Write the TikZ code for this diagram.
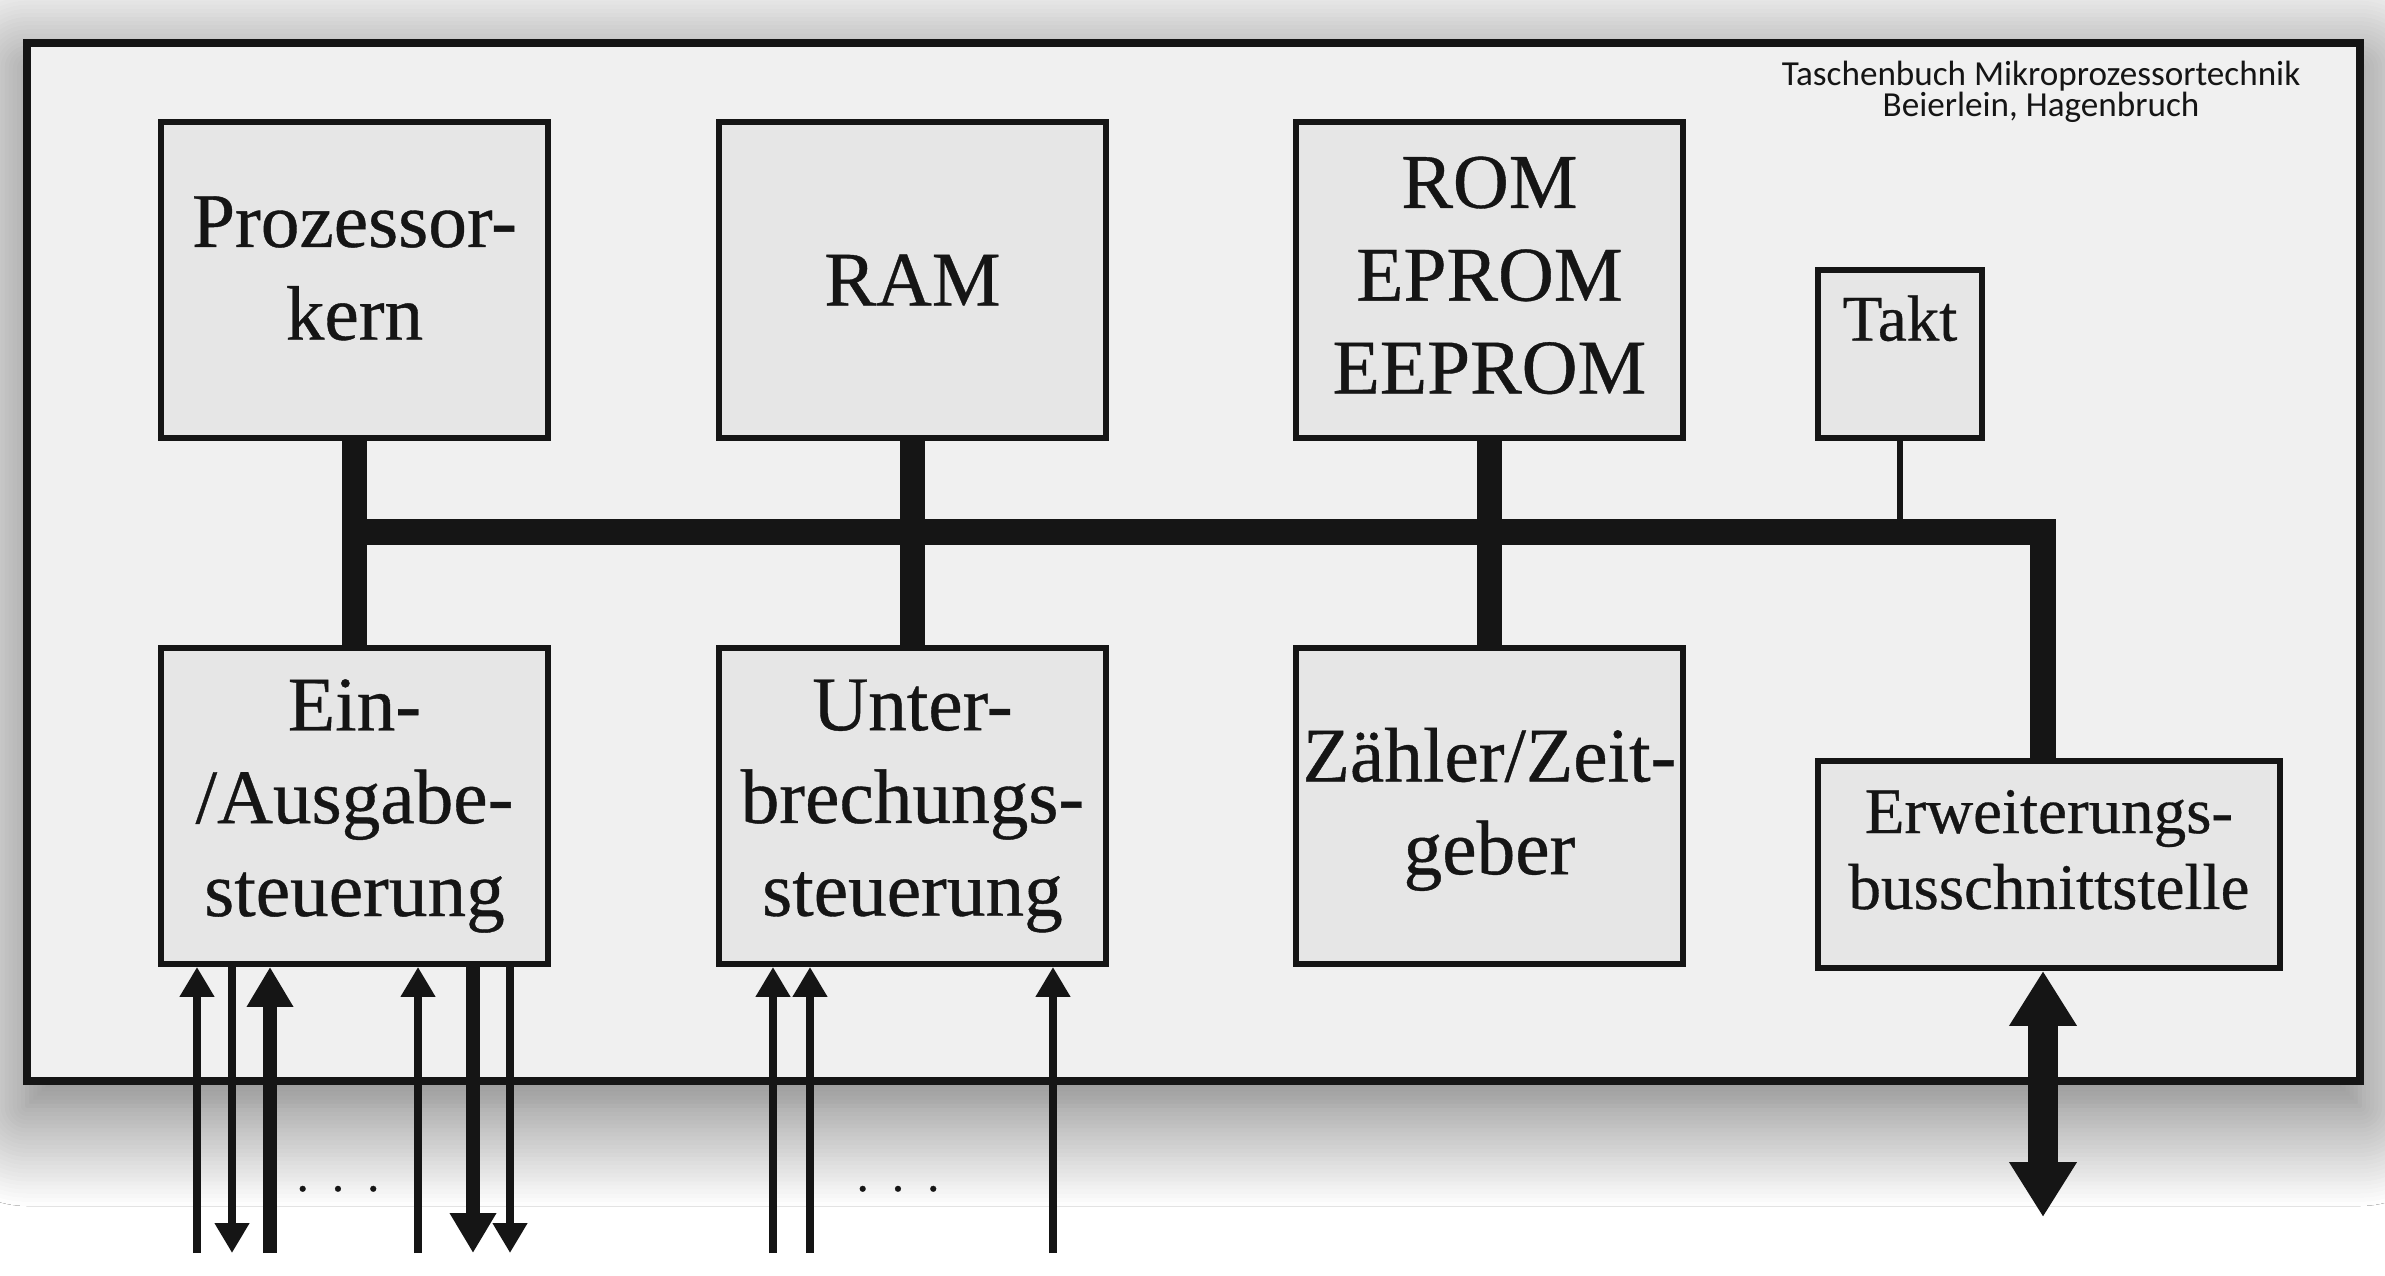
\documentclass[tikz,border=0pt]{standalone}
\usepackage{fontspec}
\setmainfont{Liberation Serif}[FakeBold=0.5]
\newfontfamily\notefont{Carlito}
\usepackage{tikz}
\usetikzlibrary{arrows.meta,positioning,shadows.blur}
\definecolor{ink}{HTML}{151515}
\definecolor{panel}{HTML}{F0F0F0}
\definecolor{boxfill}{HTML}{E6E6E6}

\begin{document}
\begin{tikzpicture}[
  box/.style={rectangle, draw=ink, line width=1.7pt, fill=boxfill, align=center, text=ink, inner sep=0pt, minimum width=3.87cm, minimum height=3.16cm, font=\fontsize{22}{26.4}\selectfont},
  smallbox/.style={box, font=\fontsize{18.5}{21.6}\selectfont},
  frame/.style={draw=ink, line width=2.3pt, fill=panel},
  bus/.style={draw=ink, line width=7.2pt},
  wire/.style={draw=ink, line width=1.6pt},
  sig/.style={draw=ink, line width=2.3pt, -{Triangle[width=0.33cm, length=0.30cm]}},
  wsig/.style={draw=ink, line width=3.8pt, -{Triangle[width=0.44cm, length=0.40cm]}},
  ext/.style={draw=ink, line width=8.5pt, {Triangle[width=0.64cm, length=0.55cm]}-{Triangle[width=0.64cm, length=0.55cm]}},
  dots/.style={anchor=base, text=ink, font=\fontsize{14}{14}\selectfont}
]
\useasboundingbox (0,0) rectangle (23.85,12.75);
\fill[white] (0,0) rectangle (23.85,12.75);
\draw[frame, blur shadow={shadow xshift=0cm, shadow yshift=-0.25cm, shadow blur radius=1.0cm, shadow blur steps=25, shadow opacity=62}] (0.27,1.94) rectangle (23.60,12.32);

\node[font=\notefont\fontsize{10}{9}\selectfont, align=center, text=ink] (source) at (20.41,11.83) {Taschenbuch Mikroprozessortechnik\\Beierlein, Hagenbruch};

% top row
\node[box, text depth=0.24cm] (cpu) at (3.545,9.95) {Prozessor-\\kern};
\node[box, right=1.65cm of cpu] (ram) {RAM};
\node[box, right=1.84cm of ram, text depth=0.1cm] (rom) {ROM\\EPROM\\EEPROM};
\node[smallbox, right=1.29cm of rom.south east, anchor=south west, minimum width=1.64cm, minimum height=1.68cm, text depth=0.72cm] (takt) {Takt};

% bottom row
\node[box, below=2.04cm of cpu] (io) {Ein-\\/Ausgabe-\\steuerung};
\node[box, below=2.04cm of ram] (irq) {Unter-\\brechungs-\\steuerung};
\node[box, below=2.04cm of rom, text depth=0.1cm] (timer) {Z\"ahler/Zeit-\\geber};
\node[smallbox, below=3.17cm of takt.south west, anchor=north west, minimum width=4.62cm, minimum height=2.07cm, text depth=0.3cm] (erw) {Erweiterungs-\\busschnittstelle};

% system bus
\coordinate (busend) at (20.43,7.43);
\coordinate (floor) at (0,0.22);
\coordinate (extend) at (20.43,0.58);
\draw[bus] (cpu) -- (io);
\draw[bus] (ram) -- (irq);
\draw[bus] (rom) -- (timer);
\draw[bus] (cpu.south |- busend) -- (busend) -- (busend |- erw.north);
\draw[wire] (takt) -- (takt.south |- busend);

% external lines
\draw[sig] ([xshift=0.39cm]io.south west |- floor) -- ([xshift=0.39cm]io.south west);
\draw[sig] ([xshift=0.74cm]io.south west) -- ([xshift=0.74cm]io.south west |- floor);
\draw[wsig] ([xshift=1.12cm]io.south west |- floor) -- ([xshift=1.12cm]io.south west);
\draw[sig] ([xshift=2.60cm]io.south west |- floor) -- ([xshift=2.60cm]io.south west);
\draw[wsig] ([xshift=3.15cm]io.south west) -- ([xshift=3.15cm]io.south west |- floor);
\draw[sig] ([xshift=3.52cm]io.south west) -- ([xshift=3.52cm]io.south west |- floor);
\node[dots] (dotsio) at (3.38,0.84) {.\hspace{0.23cm}.\hspace{0.23cm}.};

\draw[sig] ([xshift=0.57cm]irq.south west |- floor) -- ([xshift=0.57cm]irq.south west);
\draw[sig] ([xshift=0.94cm]irq.south west |- floor) -- ([xshift=0.94cm]irq.south west);
\draw[sig] ([xshift=3.37cm]irq.south west |- floor) -- ([xshift=3.37cm]irq.south west);
\node[dots] (dotsirq) at (8.98,0.84) {.\hspace{0.23cm}.\hspace{0.23cm}.};

\draw[ext] (extend |- erw.south) -- (extend);
\end{tikzpicture}
\end{document}
